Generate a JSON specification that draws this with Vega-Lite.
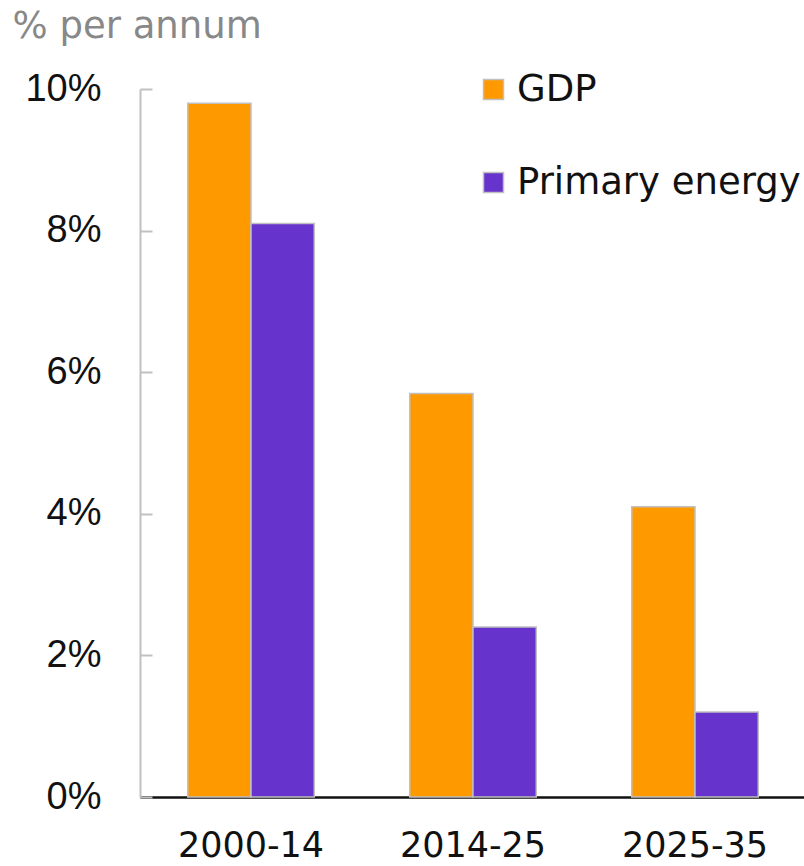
{
  "$schema": "https://vega.github.io/schema/vega-lite/v6.json",
  "autosize": "none",
  "width": 666,
  "height": 708,
  "padding": {"left": 140, "top": 89, "right": 0, "bottom": 69},
  "background": "white",
  "config": {"view": {"stroke": null}},
  "data": {
    "values": [
      {"period": "2000-14", "series": "GDP", "growth": 9.8},
      {"period": "2000-14", "series": "Primary energy", "growth": 8.1},
      {"period": "2014-25", "series": "GDP", "growth": 5.7},
      {"period": "2014-25", "series": "Primary energy", "growth": 2.4},
      {"period": "2025-35", "series": "GDP", "growth": 4.1},
      {"period": "2025-35", "series": "Primary energy", "growth": 1.2}
    ]
  },
  "mark": {"type": "bar", "stroke": "#c0c0c0", "strokeWidth": 1.5},
  "encoding": {
    "x": {
      "field": "period",
      "type": "nominal",
      "sort": null,
      "scale": {"paddingInner": 0.43, "paddingOuter": 0.215},
      "axis": {
        "title": null,
        "labelAngle": 0,
        "ticks": false,
        "domainColor": "#111111",
        "domainWidth": 2.5,
        "labelFont": "DejaVu Sans",
        "labelFontSize": 35,
        "labelColor": "#111111",
        "labelPadding": 31
      }
    },
    "xOffset": {"field": "series", "type": "nominal", "sort": ["GDP", "Primary energy"]},
    "y": {
      "field": "growth",
      "type": "quantitative",
      "scale": {"domain": [0, 10], "nice": false},
      "axis": {
        "values": [0, 2, 4, 6, 8, 10],
        "labelExpr": "datum.value + '%'",
        "grid": false,
        "domainColor": "#c0c0c0",
        "domainWidth": 2,
        "tickColor": "#c0c0c0",
        "tickWidth": 2,
        "tickSize": -12,
        "labelFont": "Liberation Sans",
        "labelFontSize": 38,
        "labelColor": "#111111",
        "labelPadding": 51,
        "title": "% per annum",
        "titleAngle": 0,
        "titleAlign": "left",
        "titleBaseline": "alphabetic",
        "titleX": -128,
        "titleY": -52,
        "titleFont": "DejaVu Sans",
        "titleFontSize": 37,
        "titleFontWeight": "normal",
        "titleColor": "#888888"
      }
    },
    "color": {
      "field": "series",
      "type": "nominal",
      "scale": {"domain": ["GDP", "Primary energy"], "range": ["#FF9900", "#6633CC"]},
      "legend": {
        "title": null,
        "orient": "none",
        "legendX": 335,
        "legendY": -18,
        "symbolType": "square",
        "symbolSize": 400,
        "symbolStrokeColor": "#c0c0c0",
        "symbolStrokeWidth": 1.5,
        "labelFont": "DejaVu Sans",
        "labelFontSize": 37,
        "labelColor": "#111111",
        "labelOffset": 5,
        "labelLimit": 0,
        "rowPadding": 55
      }
    }
  }
}
